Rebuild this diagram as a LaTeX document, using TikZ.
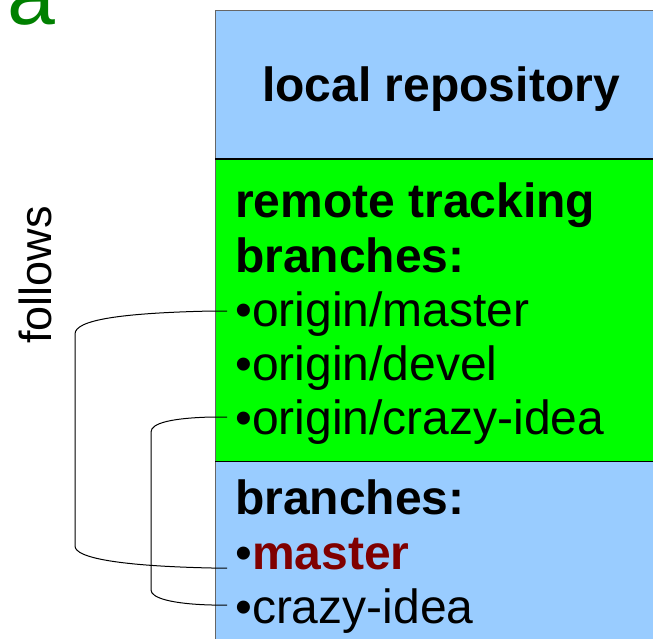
\documentclass[tikz,border=0pt]{standalone}
\usepackage{fontspec}
\setmainfont{Liberation Sans}
\definecolor{boxblue}{HTML}{99CCFF}
\definecolor{boxgreen}{HTML}{00FF00}
\definecolor{darkred}{HTML}{800000}
\definecolor{titlegreen}{HTML}{008000}
\begin{document}
\begin{tikzpicture}[x=1pt,y=-1pt,
  txt/.style={inner sep=0pt,anchor=base west,font=\fontsize{48}{54}\selectfont},
  btxt/.style={txt,font=\fontsize{48}{54}\selectfont\bfseries},
  conn/.style={draw=black,line width=1pt}]
\useasboundingbox (0,0) rectangle (653,638);
\begin{scope}
\clip (0,0) rectangle (653,638);
% partial green title
\node[inner sep=0pt,anchor=base east,text=titlegreen,font=\fontsize{86}{90}\selectfont] (title) at (56,24) {ra};
% box sections
\fill[boxblue] (215,10) rectangle (670,159);
\fill[boxgreen] (215,159) rectangle (670,461);
\fill[boxblue] (215,461) rectangle (670,660);
\draw[line width=1pt,black!60] (215,660) -- (215,10) -- (670,10);
\draw[line width=1.5pt] (215,159) -- (670,159);
\draw[line width=1pt] (215,461) -- (670,461);
% texts
\node[inner sep=0pt,anchor=base,font=\fontsize{48}{54}\selectfont\bfseries] (local) at (441,101) {local repository};
\node[btxt] (rt) at (235,217) {remote tracking};
\node[btxt] (rtb) at (235,272) {branches:};
\node[txt] (om) at (235,326) {•origin/master};
\node[txt] (od) at (235,380) {•origin/devel};
\node[txt] (oc) at (235,434) {•origin/crazy-idea};
\node[btxt] (br) at (235,514) {branches:};
\node[txt] (ma) at (235,569) {•\textbf{\textcolor{darkred}{master}}};
\node[txt] (ci) at (235,623) {•crazy-idea};
\node[inner sep=0pt,anchor=base,rotate=90,font=\fontsize{45}{50}\selectfont] (follows) at (51,275) {follows};
% connector end points
\coordinate (omE) at (227,311);
\coordinate (ocE) at (227,417);
\coordinate (maE) at (227,568);
\coordinate (ciE) at (227,605);
\draw[conn] (omE) -- (212,311) .. controls (120,313) and (75,320) .. (75,334) -- (75,546) .. controls (75,558) and (120,566) .. (212,568) -- (maE);
\draw[conn] (ocE) -- (212,417) .. controls (172,418) and (151,423) .. (151,432) -- (151,590) .. controls (151,598) and (172,604) .. (212,605) -- (ciE);
\end{scope}
\end{tikzpicture}
\end{document}
